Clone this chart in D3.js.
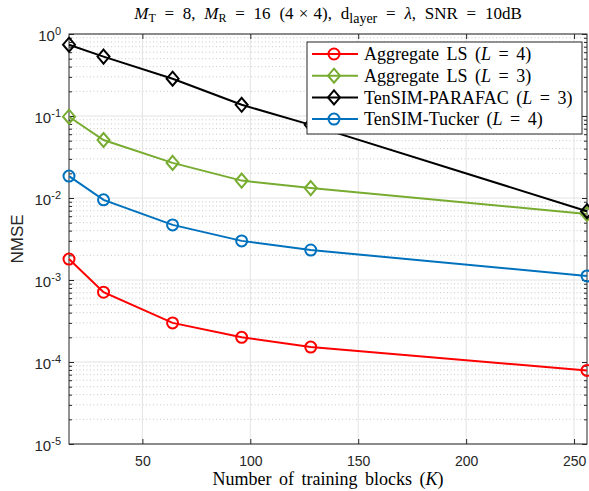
<!DOCTYPE html>
<html>
<head>
<meta charset="utf-8">
<script src="https://cdn.jsdelivr.net/npm/d3@7"></script>
<style>
  body { margin: 0; background: #fff; }
  .tick text { font-family: "Liberation Sans", Arial, sans-serif; fill: #262626; }
  .serif { font-family: "Liberation Serif", "Times New Roman", serif; fill: #000; }
</style>
</head>
<body>
<svg width="589" height="491"></svg>
<script>
// data
var blocks = [16, 32, 64, 96, 128, 256];
var aggLS4 = [0.0018, 0.00071, 0.0003, 0.0002, 0.000152, 0.000079];
var aggLS3 = [0.098, 0.051, 0.0268, 0.0163, 0.0132, 0.0064];
var parafac3 = [0.74, 0.53, 0.285, 0.137, 0.078, 0.0069];
var tucker4 = [0.0185, 0.0095, 0.0047, 0.003, 0.00232, 0.00112];
var xTicks = [50, 100, 150, 200, 250];
var yTicks = [1e-5, 1e-4, 1e-3, 1e-2, 1e-1, 1];

var series = [
  {name: "Aggregate LS", L: 4, values: aggLS4, color: "#ff0000", marker: "circle"},
  {name: "Aggregate LS", L: 3, values: aggLS3, color: "#77ac30", marker: "diamond"},
  {name: "TenSIM-PARAFAC", L: 3, values: parafac3, color: "#000000", marker: "diamond"},
  {name: "TenSIM-Tucker", L: 4, values: tucker4, color: "#0072bd", marker: "circle"}
];

var svg = d3.select("svg"),
    margin = {top: 34, right: 2, bottom: 47, left: 69},
    width = +svg.attr("width") - margin.left - margin.right,
    height = +svg.attr("height") - margin.top - margin.bottom;

var x = d3.scaleLinear().domain([16, 256]).range([0, width]),
    y = d3.scaleLog().domain([1e-5, 1]).range([height, 0]);

var g = svg.append("g")
    .attr("transform", "translate(" + margin.left + "," + margin.top + ")");

// minor values for the log axis (2..9 per decade)
var minor = [];
for (var e = -5; e < 0; e++) {
  for (var m = 2; m <= 9; m++) minor.push(m * Math.pow(10, e));
}

// grid
g.append("g").selectAll("line").data(minor).enter().append("line")
    .attr("x1", 0).attr("x2", width)
    .attr("y1", function(d) { return y(d); }).attr("y2", function(d) { return y(d); })
    .attr("stroke", "#c8c8c8").attr("stroke-dasharray", "1,2.5").attr("stroke-width", 1);
g.append("g").selectAll("line").data(yTicks).enter().append("line")
    .attr("x1", 0).attr("x2", width)
    .attr("y1", function(d) { return y(d); }).attr("y2", function(d) { return y(d); })
    .attr("stroke", "#e3e3e3").attr("stroke-width", 1);
g.append("g").selectAll("line").data(xTicks).enter().append("line")
    .attr("y1", 0).attr("y2", height)
    .attr("x1", function(d) { return x(d); }).attr("x2", function(d) { return x(d); })
    .attr("stroke", "#e3e3e3").attr("stroke-width", 1);

// axes, ticks pointing inwards
function styleAxis(sel) {
  sel.select(".domain").remove();
  sel.selectAll(".tick line").attr("stroke", "#262626");
}

g.append("g")
    .attr("transform", "translate(0," + height + ")")
    .call(d3.axisBottom(x).tickValues(xTicks).tickSize(-5).tickPadding(12))
    .call(styleAxis)
    .selectAll("text").style("font-size", "14px");

g.append("g")
    .call(d3.axisTop(x).tickValues(xTicks).tickSize(-5).tickFormat(""))
    .call(styleAxis);

var yAxis = g.append("g")
    .call(d3.axisLeft(y).tickValues(yTicks).tickSize(-5).tickPadding(8).tickFormat(""))
    .call(styleAxis);
yAxis.selectAll(".tick text").each(function(d) {
  var t = d3.select(this).style("font-size", "15px").attr("dy", "0.45em");
  t.append("tspan").text("10");
  t.append("tspan").attr("dy", "-0.55em").style("font-size", "11px").text(Math.round(Math.log10(d)));
});

g.append("g")
    .call(d3.axisLeft(y).tickValues(minor).tickSize(-3).tickFormat(""))
    .call(styleAxis);
g.append("g")
    .attr("transform", "translate(" + width + ",0)")
    .call(d3.axisRight(y).tickValues(yTicks).tickSize(-5).tickFormat(""))
    .call(styleAxis);
g.append("g")
    .attr("transform", "translate(" + width + ",0)")
    .call(d3.axisRight(y).tickValues(minor).tickSize(-3).tickFormat(""))
    .call(styleAxis);

// box
g.append("rect")
    .attr("width", width).attr("height", height)
    .attr("fill", "none").attr("stroke", "#262626").attr("stroke-width", 1);

// lines and markers
var line = d3.line()
    .x(function(d, i) { return x(blocks[i]); })
    .y(function(d) { return y(d); });

function drawMarker(sel, type, color) {
  if (type === "circle") {
    sel.append("circle").attr("r", 5.5)
      .attr("fill", "none").attr("stroke", color).attr("stroke-width", 2);
  } else {
    sel.append("path").attr("d", "M0,-7L6,0L0,7L-6,0Z")
      .attr("fill", "none").attr("stroke", color).attr("stroke-width", 2);
  }
}

var plot = g.append("g");
series.forEach(function(s) {
  plot.append("path")
      .datum(s.values)
      .attr("fill", "none")
      .attr("stroke", s.color)
      .attr("stroke-width", 2)
      .attr("d", line);
  s.values.forEach(function(v, i) {
    var mk = plot.append("g").attr("transform", "translate(" + x(blocks[i]) + "," + y(v) + ")");
    drawMarker(mk, s.marker, s.color);
  });
});

// legend
var legend = svg.append("g").attr("transform", "translate(307,42)");
legend.append("rect")
    .attr("width", 275).attr("height", 92)
    .attr("fill", "#fff").attr("stroke", "#262626").attr("stroke-width", 1);
series.forEach(function(s, i) {
  var row = legend.append("g").attr("transform", "translate(0," + (12 + i * 21.7) + ")");
  row.append("line").attr("x1", 5).attr("x2", 51)
      .attr("stroke", s.color).attr("stroke-width", 2);
  drawMarker(row.append("g").attr("transform", "translate(27,0)"), s.marker, s.color);
  var t = row.append("text").attr("class", "serif").attr("x", 57).attr("dy", "0.35em")
      .style("font-size", "18px").style("word-spacing", "3px");
  t.append("tspan").text(s.name + " (");
  t.append("tspan").style("font-style", "italic").text("L");
  t.append("tspan").text(" = " + s.L + ")");
});

// title
var title = svg.append("text").attr("class", "serif")
    .attr("x", margin.left + width / 2).attr("y", 19)
    .attr("text-anchor", "middle").style("font-size", "17px").style("word-spacing", "4.5px");
title.append("tspan").style("font-style", "italic").text("M");
title.append("tspan").attr("dy", 3).style("font-size", "12px").text("T");
title.append("tspan").attr("dy", -3).text(" = 8,  ");
title.append("tspan").style("font-style", "italic").text("M");
title.append("tspan").attr("dy", 3).style("font-size", "12px").text("R");
title.append("tspan").attr("dy", -3).text(" = 16 ");
title.append("tspan").style("word-spacing", "1px").text("(4 × 4)");
title.append("tspan").text(",  d");
title.append("tspan").attr("dy", 4).style("font-size", "14px").text("layer");
title.append("tspan").attr("dy", -4).text(" = ");
title.append("tspan").style("font-style", "italic").text("λ");
title.append("tspan").text(",  SNR = 10dB");

// axis labels
var xl = svg.append("text").attr("class", "serif")
    .attr("x", margin.left + width / 2).attr("y", 485)
    .attr("text-anchor", "middle").style("font-size", "18px").style("word-spacing", "3px");
xl.append("tspan").text("Number of training blocks (");
xl.append("tspan").style("font-style", "italic").text("K");
xl.append("tspan").text(")");

svg.append("text")
    .attr("transform", "translate(23," + (margin.top + height / 2) + ") rotate(-90)")
    .attr("text-anchor", "middle")
    .style("font-family", "'Liberation Sans', Arial, sans-serif")
    .style("font-size", "17px").style("fill", "#262626")
    .text("NMSE");
</script>
</body>
</html>
